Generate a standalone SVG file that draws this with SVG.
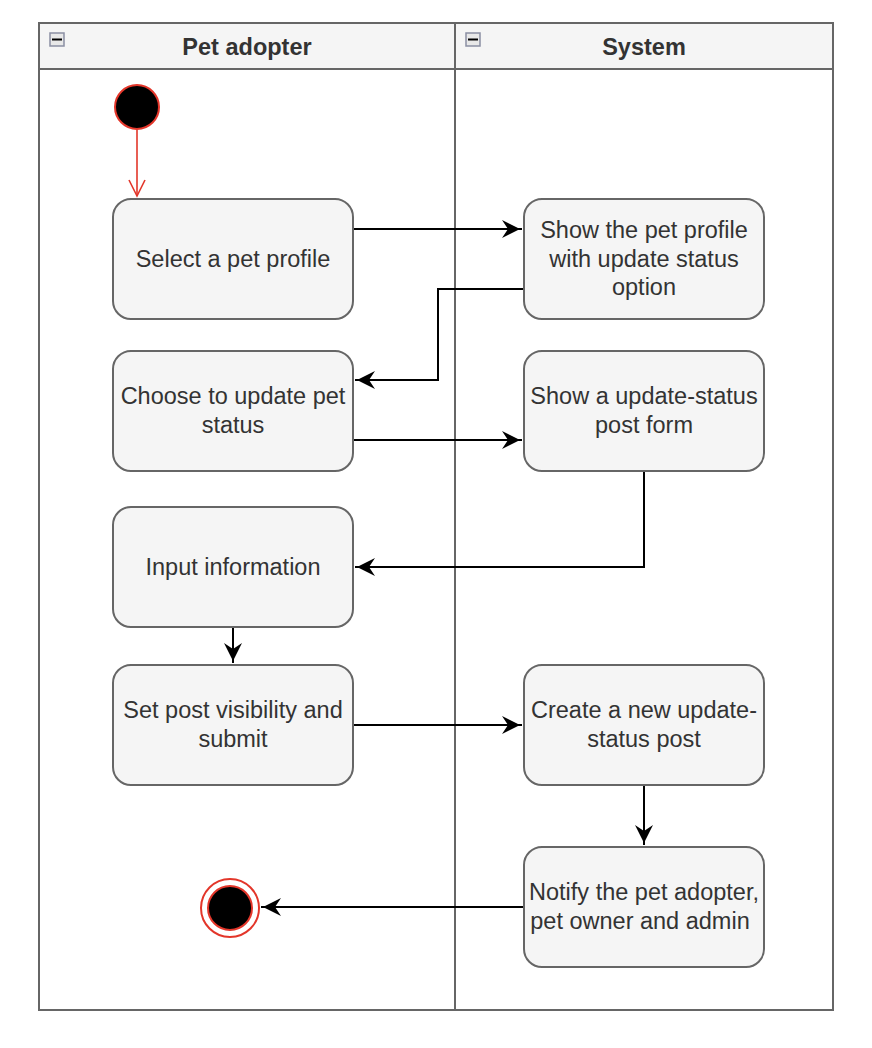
<svg xmlns="http://www.w3.org/2000/svg" width="872" height="1048" viewBox="0 0 872 1048">
<defs>
<style>
.lane{fill:#ffffff;stroke:#666666;stroke-width:2}
.hdr{fill:#f5f5f5;stroke:#666666;stroke-width:2}
.ht{font-family:"Liberation Sans",Arial,sans-serif;font-size:23.5px;font-weight:bold;fill:#333333;text-anchor:middle}
.node{fill:#f5f5f5;stroke:#666666;stroke-width:2}
.t{font-family:"Liberation Sans",Arial,sans-serif;font-size:23.5px;fill:#333333;text-anchor:middle}
.edge{fill:none;stroke:#000000;stroke-width:2}
.icon{fill:#e8e8e8;stroke:#8a8fa3;stroke-width:1.5}
</style>
<marker id="arr" markerWidth="12" markerHeight="12" viewBox="0 0 12 12" refX="11" refY="6" orient="auto" markerUnits="userSpaceOnUse" overflow="visible">
<path d="M0,0 L12,6 L0,12 L4,6 Z" fill="#000000" transform="translate(-9,-3) scale(1.5)"/>
</marker>
</defs>
<g id="pool">
<rect class="lane" x="39" y="23" width="416" height="987"/>
<rect class="lane" x="455" y="23" width="378" height="987"/>
<rect class="hdr" x="39" y="23" width="416" height="46"/>
<rect class="hdr" x="455" y="23" width="378" height="46"/>
<text class="ht" x="247" y="55">Pet adopter</text>
<text class="ht" x="644" y="55">System</text>
<rect class="icon" x="50" y="33" width="14" height="13"/>
<line x1="52" y1="39.5" x2="62" y2="39.5" stroke="#000" stroke-width="2"/>
<rect class="icon" x="466" y="33" width="14" height="13"/>
<line x1="468" y1="39.5" x2="478" y2="39.5" stroke="#000" stroke-width="2"/>
</g>
<g id="connectors">
<line x1="137" y1="130" x2="137" y2="196" stroke="#e3362a" stroke-width="1.6"/>
<path d="M129,180 L137,196 L145,180" fill="none" stroke="#e3362a" stroke-width="1.6"/>
<path class="edge" d="M353,229 L522,229" marker-end="url(#arr)"/>
<path class="edge" d="M524,289 L438,289 L438,380 L355,380" marker-end="url(#arr)"/>
<path class="edge" d="M353,440 L522,440" marker-end="url(#arr)"/>
<path class="edge" d="M644,471 L644,567 L355,567" marker-end="url(#arr)"/>
<path class="edge" d="M233,627 L233,663" marker-end="url(#arr)"/>
<path class="edge" d="M353,725 L522,725" marker-end="url(#arr)"/>
<path class="edge" d="M644,785 L644,845" marker-end="url(#arr)"/>
<path class="edge" d="M524,907 L261,907" marker-end="url(#arr)"/>
</g>
<g id="start">
<circle cx="137" cy="107" r="22" fill="#000000" stroke="#e3362a" stroke-width="2"/>
</g>
<g id="end">
<circle cx="230" cy="908" r="29" fill="#ffffff" stroke="#e3362a" stroke-width="2"/>
<circle cx="230" cy="908" r="22" fill="#000000" stroke="#e3362a" stroke-width="2"/>
</g>
<g id="n1">
<rect class="node" x="113" y="199" width="240" height="120" rx="18"/>
<text class="t" x="233" y="267">Select a pet profile</text>
</g>
<g id="n2">
<rect class="node" x="524" y="199" width="240" height="120" rx="18"/>
<text class="t" x="644" y="238">Show the pet profile</text>
<text class="t" x="644" y="267">with update status</text>
<text class="t" x="644" y="295">option</text>
</g>
<g id="n3">
<rect class="node" x="113" y="351" width="240" height="120" rx="18"/>
<text class="t" x="233" y="404">Choose to update pet</text>
<text class="t" x="233" y="433">status</text>
</g>
<g id="n4">
<rect class="node" x="524" y="351" width="240" height="120" rx="18"/>
<text class="t" x="644" y="404">Show a update-status</text>
<text class="t" x="644" y="433">post form</text>
</g>
<g id="n5">
<rect class="node" x="113" y="507" width="240" height="120" rx="18"/>
<text class="t" x="233" y="575">Input information</text>
</g>
<g id="n6">
<rect class="node" x="113" y="665" width="240" height="120" rx="18"/>
<text class="t" x="233" y="718">Set post visibility and</text>
<text class="t" x="233" y="747">submit</text>
</g>
<g id="n7">
<rect class="node" x="524" y="665" width="240" height="120" rx="18"/>
<text class="t" x="644" y="718">Create a new update-</text>
<text class="t" x="644" y="747">status post</text>
</g>
<g id="n8">
<rect class="node" x="524" y="847" width="240" height="120" rx="18"/>
<text class="t" x="644" y="900">Notify the pet adopter,</text>
<text class="t" x="640" y="929">pet owner and admin</text>
</g>
</svg>
